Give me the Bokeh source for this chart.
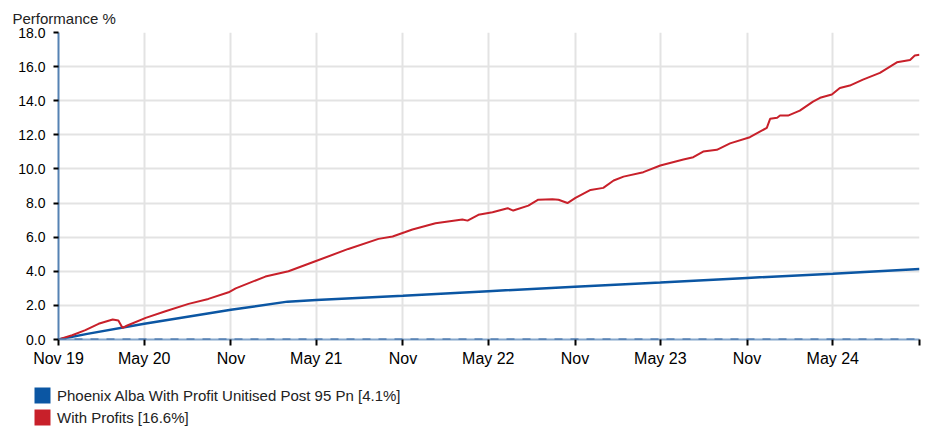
import pandas as pd
from bokeh.plotting import figure
from bokeh.layouts import column, row
from bokeh.models import (ColumnDataSource, FixedTicker, NumeralTickFormatter, Legend,
                          LegendItem, Span, Range1d)
from bokeh.embed import file_html
from bokeh.resources import INLINE

FONT = "Liberation Sans"

# ---- data ----
blue_dates = ["2019-11-01", "2020-01-01", "2020-05-01", "2020-11-01", "2021-03-01",
              "2021-05-01", "2021-11-01", "2022-05-01", "2022-11-01", "2023-05-01",
              "2023-11-01", "2024-05-01", "2024-11-01"]
blue_values = [0.0, 0.33, 0.92, 1.74, 2.22, 2.32, 2.56, 2.83, 3.09, 3.34, 3.61, 3.86, 4.13]

red_dates = ["2019-11-01", "2019-11-30", "2019-12-28", "2020-01-25", "2020-02-24",
             "2020-03-07", "2020-03-16", "2020-03-26", "2020-05-04", "2020-06-15",
             "2020-08-03", "2020-09-14", "2020-10-27", "2020-11-11", "2021-01-13",
             "2021-03-03", "2021-04-29", "2021-07-08", "2021-09-10", "2021-10-10",
             "2021-11-06", "2021-11-21", "2022-01-09", "2022-03-07", "2022-03-18",
             "2022-04-10", "2022-05-10", "2022-06-11", "2022-06-23", "2022-07-25",
             "2022-08-15", "2022-09-14", "2022-09-27", "2022-10-16", "2022-11-02",
             "2022-12-04", "2022-12-31", "2023-01-22", "2023-02-12", "2023-03-26",
             "2023-05-01", "2023-06-19", "2023-07-10", "2023-07-31", "2023-08-29",
             "2023-09-26", "2023-11-07", "2023-12-13", "2023-12-20", "2024-01-04",
             "2024-01-10", "2024-01-27", "2024-02-21", "2024-03-20", "2024-04-04",
             "2024-04-29", "2024-05-16", "2024-06-06", "2024-07-04", "2024-08-09",
             "2024-09-14", "2024-10-12", "2024-10-22", "2024-11-01"]
red_values = [0.0, 0.25, 0.55, 0.92, 1.17,
              1.11, 0.68, 0.82, 1.27, 1.66,
              2.09, 2.38, 2.77, 3.0, 3.69,
              4.0, 4.59, 5.31, 5.9, 6.04,
              6.3, 6.45, 6.82, 7.03, 6.97,
              7.31, 7.46, 7.7, 7.56, 7.85,
              8.2, 8.22, 8.19, 8.0, 8.3,
              8.77, 8.89, 9.32, 9.55, 9.81,
              10.2, 10.55, 10.69, 11.02, 11.12,
              11.5, 11.86, 12.41, 12.94, 13.0,
              13.13, 13.13, 13.42, 13.95, 14.17,
              14.36, 14.75, 14.89, 15.24, 15.63,
              16.25, 16.39, 16.65, 16.69]

tick_dates = ["2019-11-01", "2020-05-01", "2020-11-01", "2021-05-01", "2021-11-01",
              "2022-05-01", "2022-11-01", "2023-05-01", "2023-11-01", "2024-05-01",
              "2024-11-01"]
tick_labels = ["Nov 19", "May 20", "Nov", "May 21", "Nov", "May 22", "Nov", "May 23",
               "Nov", "May 24", ""]
y_ticks = [0, 2, 4, 6, 8, 10, 12, 14, 16, 18]

series_names = ["Phoenix Alba With Profit Unitised Post 95 Pn [4.1%]", "With Profits [16.6%]"]
series_colors = ["#0b56a3", "#c8202a"]

# ---- main figure ----
bsrc = ColumnDataSource(dict(x=pd.to_datetime(blue_dates), y=blue_values))
rsrc = ColumnDataSource(dict(x=pd.to_datetime(red_dates), y=red_values))

x0 = pd.Timestamp(tick_dates[0])
x1 = pd.Timestamp(tick_dates[-1])

p = figure(width=930, height=370, x_axis_type="datetime", output_backend="svg",
           toolbar_location=None, x_range=Range1d(x0, x1), y_range=Range1d(0, 18),
           min_border_left=58, min_border_right=11, min_border_top=32, min_border_bottom=31)

p.title.text = "Performance %"
p.title.text_font = FONT
p.title.text_font_size = "15px"
p.title.text_font_style = "normal"
p.title.text_color = "#222222"
p.title.align = "left"
p.title.offset = -46
p.title.standoff = 11

p.outline_line_color = None
p.background_fill_color = "white"
p.border_fill_color = "white"

tick_ms = [pd.Timestamp(d).value / 1e6 for d in tick_dates]
p.xaxis.ticker = FixedTicker(ticks=tick_ms)
p.xaxis.major_label_overrides = {t: l for t, l in zip(tick_ms, tick_labels)}
p.xaxis.minor_tick_line_color = None
p.xaxis.major_tick_out = 6
p.xaxis.major_tick_in = 0
p.xaxis.major_tick_line_color = "black"
p.xaxis.major_tick_line_width = 2
p.xaxis.major_label_text_font = FONT
p.xaxis.major_label_text_font_size = "16px"
p.xaxis.major_label_text_color = "black"
p.xaxis.major_label_standoff = 4
p.xaxis.axis_line_color = "#86a7cc"
p.xaxis.axis_line_width = 2

p.yaxis.ticker = FixedTicker(ticks=y_ticks)
p.yaxis.formatter = NumeralTickFormatter(format="0.0")
p.yaxis.minor_tick_line_color = None
p.yaxis.major_tick_out = 5
p.yaxis.major_tick_in = 0
p.yaxis.major_tick_line_color = "black"
p.yaxis.major_tick_line_width = 2
p.yaxis.major_label_text_font = FONT
p.yaxis.major_label_text_font_size = "14px"
p.yaxis.major_label_text_color = "black"
p.yaxis.major_label_standoff = 8
p.yaxis.axis_line_color = "#5582b3"
p.yaxis.axis_line_width = 2

p.xgrid.ticker = FixedTicker(ticks=tick_ms)
p.ygrid.ticker = FixedTicker(ticks=y_ticks)
p.grid.grid_line_color = "#e3e3e3"
p.grid.grid_line_width = 2

p.line("x", "y", source=bsrc, line_color=series_colors[0], line_width=2.5)
p.line("x", "y", source=rsrc, line_color=series_colors[1], line_width=2)

p.add_layout(Span(location=0, dimension="width", line_color="#2e63a0",
                  line_width=2, line_dash="8 8"))

# ---- legend strip ----
lg = figure(width=930, height=59, output_backend="svg", toolbar_location=None,
            x_range=Range1d(0, 1), y_range=Range1d(0, 1),
            x_axis_location=None, y_axis_location=None,
            min_border_left=0, min_border_right=0, min_border_top=0, min_border_bottom=0)
lg.grid.visible = False
lg.outline_line_color = None

nan = float("nan")
sw = []
for c in series_colors:
    sw.append(lg.quad(left=[nan], right=[nan], top=[nan], bottom=[nan],
                      fill_color=c, line_color=None))

legend = Legend(items=[LegendItem(label=n, renderers=[r]) for n, r in zip(series_names, sw)],
                location=(32, 2), orientation="vertical",
                glyph_width=20, glyph_height=20, label_height=20, spacing=2,
                padding=0, margin=0, label_standoff=5,
                label_text_font=FONT, label_text_font_size="15px", label_text_color="#222222",
                border_line_color=None, background_fill_alpha=0)
lg.add_layout(legend, "center")

open("out.html", "w").write(file_html(column(p, row(lg, spacing=0), spacing=0), INLINE))
